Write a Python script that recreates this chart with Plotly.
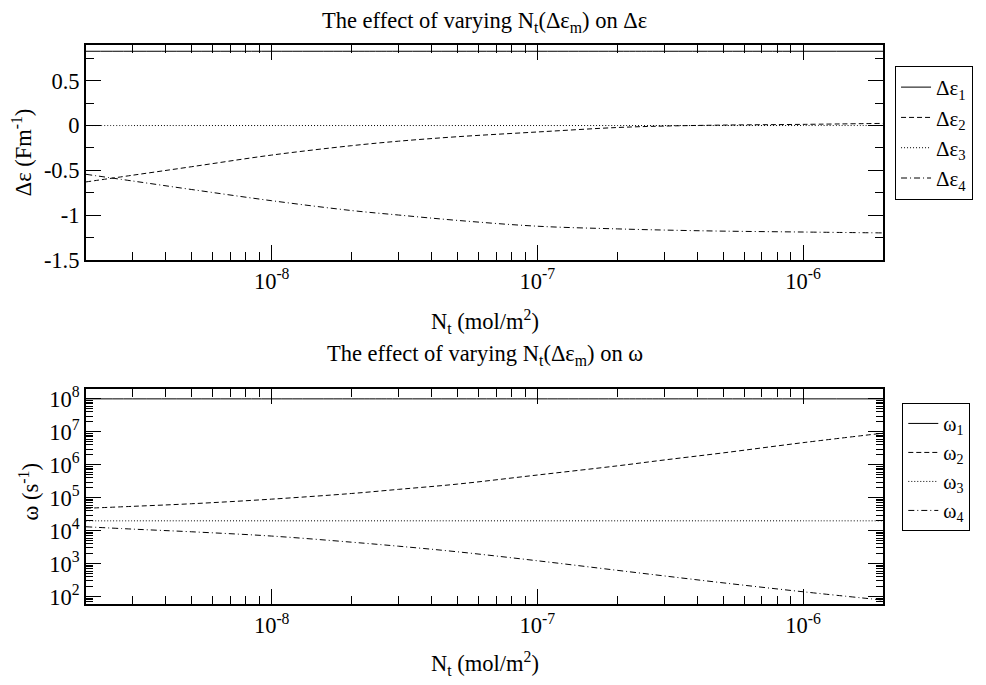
import math
import plotly.graph_objects as go

# ---------------- data ----------------
nt = [2e-9, 3e-9, 5e-9, 1e-8, 2e-8, 3e-8, 5e-8, 1e-7, 2e-7, 3e-7, 5e-7, 1e-6, 2e-6]

de1 = [0.83, 0.83, 0.83, 0.83, 0.83, 0.83, 0.83, 0.83, 0.83, 0.83, 0.83, 0.83, 0.83]
de2 = [-0.63, -0.555, -0.46, -0.33, -0.225, -0.175, -0.125, -0.072, -0.022, -0.006, 0.005, 0.013, 0.024]
de3 = [0, 0, 0, 0, 0, 0, 0, 0, 0, 0, 0, 0, 0]
de4 = [-0.545, -0.62, -0.715, -0.84, -0.95, -1.0, -1.06, -1.125, -1.155, -1.168, -1.18, -1.19, -1.2]

w1 = [1e8] * 13
w2 = [4.8e4, 5.5e4, 6.6e4, 9.1e4, 1.35e5, 1.8e5, 2.6e5, 4.9e5, 9.3e5, 1.4e6, 2.3e6, 4.7e6, 9.1e6]
w3 = [2e4] * 13
w4 = [1.32e4, 1.12e4, 9.3e3, 6.9e3, 4.5e3, 3.4e3, 2.3e3, 1.23e3, 630, 427, 263, 141, 79]

de_names = ["Δε<sub>1</sub>", "Δε<sub>2</sub>", "Δε<sub>3</sub>", "Δε<sub>4</sub>"]
w_names = ["ω<sub>1</sub>", "ω<sub>2</sub>", "ω<sub>3</sub>", "ω<sub>4</sub>"]

x_major = [1e-8, 1e-7, 1e-6]
x_major_text = ["10<sup>-8</sup>", "10<sup>-7</sup>", "10<sup>-6</sup>"]
de_ticks = [-1.5, -1, -0.5, 0, 0.5]
de_ticktext = ["-1.5", "-1", "-0.5", "0", "0.5"]
de_minor = [-1.25, -0.75, -0.25, 0.25, 0.75]
w_major = [1e2, 1e3, 1e4, 1e5, 1e6, 1e7, 1e8]
w_major_text = ["10<sup>2</sup>", "10<sup>3</sup>", "10<sup>4</sup>", "10<sup>5</sup>",
                "10<sup>6</sup>", "10<sup>7</sup>", "10<sup>8</sup>"]

# ---------------- styling ----------------
FONT = "Liberation Serif"
FS = 22.5
dashes = ["solid", "5px,3px", "1px,2px", "6px,3px,1px,3px"]

x_minor = [m * 10 ** e for e in (-9, -8, -7, -6) for m in range(2, 10)
           if 2e-9 < m * 10 ** e < 2e-6]
w_minor = [m * 10 ** e for e in range(1, 9) for m in range(2, 10)
           if 60 < m * 10 ** e < 2e8]

fig = go.Figure()
for ys, nm, ds in zip([de1, de2, de3, de4], de_names, dashes):
    fig.add_trace(go.Scatter(x=nt, y=ys, name=nm, mode="lines", xaxis="x", yaxis="y",
                             line=dict(color="black", width=1, dash=ds, shape="spline"),
                             legend="legend"))
for ys, nm, ds in zip([w1, w2, w3, w4], w_names, dashes):
    fig.add_trace(go.Scatter(x=nt, y=ys, name=nm, mode="lines", xaxis="x2", yaxis="y2",
                             line=dict(color="black", width=1, dash=ds, shape="spline"),
                             legend="legend2"))

common = dict(showline=True, linecolor="black", linewidth=2, mirror="allticks",
              ticks="inside", ticklen=15, tickwidth=1.2, tickcolor="black",
              showgrid=False, zeroline=False,
              tickfont=dict(family=FONT, size=FS, color="black"))

xr = [math.log10(2e-9), math.log10(2e-6)]
# page body has an 8px default margin: shift the plot area back by 8px
fig.update_layout(
    width=986, height=685,
    paper_bgcolor="white", plot_bgcolor="white",
    margin=dict(l=78, r=111.3, t=36.7, b=88.7, autoexpand=False),
    font=dict(family=FONT, size=FS, color="black"),
    xaxis=dict(type="log", range=xr, domain=[0, 1], anchor="y",
               tickmode="array", tickvals=x_major, ticktext=x_major_text,
               minor=dict(ticks="inside", ticklen=8, tickwidth=1.2, tickcolor="black",
                          tickmode="array", tickvals=x_minor, showgrid=False),
               **common),
    yaxis=dict(range=[-1.5, 0.9], domain=[0.6158, 1], anchor="x",
               tickmode="array", tickvals=de_ticks, ticktext=de_ticktext,
               minor=dict(ticks="inside", ticklen=8, tickwidth=1.2, tickcolor="black",
                          tickmode="array", tickvals=de_minor, showgrid=False),
               **common),
    xaxis2=dict(type="log", range=xr, domain=[0, 1], anchor="y2",
                tickmode="array", tickvals=x_major, ticktext=x_major_text,
                minor=dict(ticks="inside", ticklen=8, tickwidth=1.2, tickcolor="black",
                           tickmode="array", tickvals=x_minor, showgrid=False),
                **common),
    yaxis2=dict(type="log", range=[math.log10(60), math.log10(2e8)], domain=[0, 0.3847],
                anchor="x2", tickmode="array", tickvals=w_major, ticktext=w_major_text,
                minor=dict(ticks="inside", ticklen=7, tickwidth=1.2, tickcolor="black",
                           tickmode="array", tickvals=w_minor, showgrid=False),
                **common),
    legend=dict(x=1.0151, y=0.9625, xanchor="left", yanchor="top",
                bordercolor="black", borderwidth=1, bgcolor="white",
                font=dict(family=FONT, size=21, color="black")),
    legend2=dict(x=1.0242, y=0.3597, xanchor="left", yanchor="top",
                 bordercolor="black", borderwidth=1, bgcolor="white",
                 font=dict(family=FONT, size=20, color="black")),
    showlegend=True,
)

ann = dict(xref="paper", yref="paper", showarrow=False,
           font=dict(family=FONT, size=FS, color="black"))
fig.add_annotation(text="The effect of varying N<sub>t</sub>(Δε<sub>m</sub>) on Δε",
                   x=0.5, y=1.0406, xanchor="center", yanchor="middle", **ann)
fig.add_annotation(text="N<sub>t</sub> (mol/m<sup>2</sup>)",
                   x=0.5, y=0.5045, xanchor="center", yanchor="middle", **ann)
fig.add_annotation(text="The effect of varying N<sub>t</sub>(Δε<sub>m</sub>) on ω",
                   x=0.5, y=0.4455, xanchor="center", yanchor="middle", **ann)
fig.add_annotation(text="N<sub>t</sub> (mol/m<sup>2</sup>)",
                   x=0.5, y=-0.1067, xanchor="center", yanchor="middle", **ann)
fig.add_annotation(text="Δε (Fm<sup>-1</sup>)", textangle=-90,
                   x=-0.0803, y=0.808, xanchor="center", yanchor="middle", **ann)
fig.add_annotation(text="ω (s<sup>-1</sup>)", textangle=-90,
                   x=-0.072, y=0.2007, xanchor="center", yanchor="middle", **ann)

fig.write_html("out.html")
